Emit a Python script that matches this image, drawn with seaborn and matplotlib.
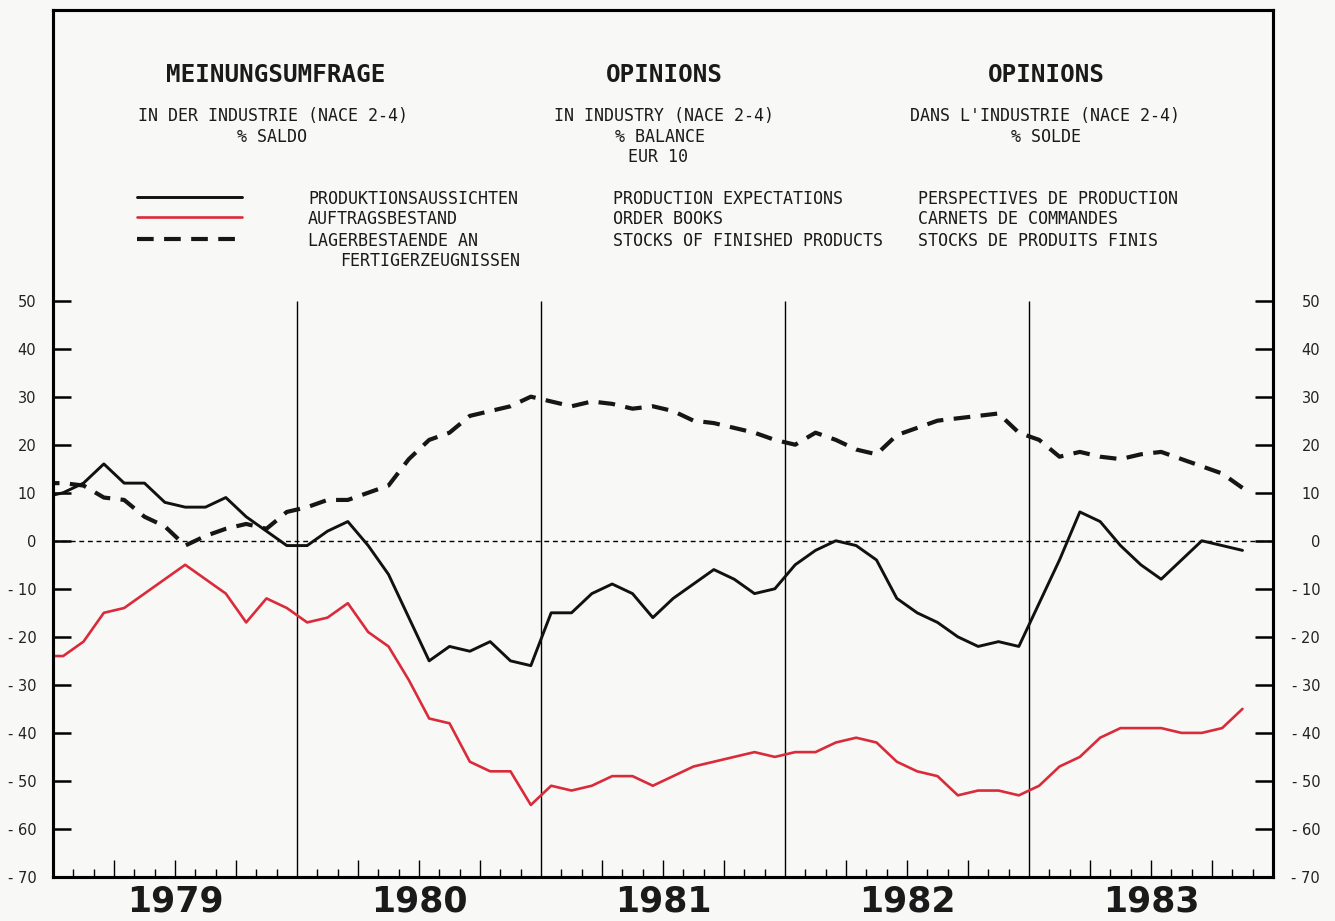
import numpy as np
import pandas as pd
import seaborn as sns
import matplotlib.pyplot as plt
from matplotlib.lines import Line2D
from matplotlib.transforms import blended_transform_factory

# monthly survey balances, Dec 1978 .. Nov 1983 (first point only feeds the line into the frame)
months = pd.period_range("1978-12", "1983-11", freq="M")

production = [9, 10, 12, 16, 12, 12, 8, 7, 7, 9, 5, 2, -1,
              -1, 2, 4, -1, -7, -16, -25, -22, -23, -21, -25, -26,
              -15, -15, -11, -9, -11, -16, -12, -9, -6, -8, -11, -10,
              -5, -2, 0, -1, -4, -12, -15, -17, -20, -22, -21, -22,
              -13, -4, 6, 4, -1, -5, -8, -4, 0, -1, -2]
orders = [-24, -24, -21, -15, -14, -11, -8, -5, -8, -11, -17, -12, -14,
          -17, -16, -13, -19, -22, -29, -37, -38, -46, -48, -48, -55,
          -51, -52, -51, -49, -49, -51, -49, -47, -46, -45, -44, -45,
          -44, -44, -42, -41, -42, -46, -48, -49, -53, -52, -52, -53,
          -51, -47, -45, -41, -39, -39, -39, -40, -40, -39, -35]
stocks = [12, 12, 11.5, 9, 8.5, 5, 3, -1, 1, 2.5, 3.5, 2.5, 6,
          7, 8.5, 8.5, 10, 11.5, 17, 21, 22.5, 26, 27, 28, 30,
          29, 28, 29, 28.5, 27.5, 28, 27, 25, 24.5, 23.5, 22.5, 21,
          20, 22.5, 21, 19, 18, 22, 23.5, 25, 25.5, 26, 26.5, 22.5,
          21, 17.5, 18.5, 17.5, 17, 18, 18.5, 17, 15.5, 14, 11]

years = ["1979", "1980", "1981", "1982", "1983"]
y_ticks = list(range(-70, 51, 10))

legend_de = ["PRODUKTIONSAUSSICHTEN", "AUFTRAGSBESTAND", "LAGERBESTAENDE AN"]
legend_en = ["PRODUCTION EXPECTATIONS", "ORDER BOOKS", "STOCKS OF FINISHED PRODUCTS"]
legend_fr = ["PERSPECTIVES DE PRODUCTION", "CARNETS DE COMMANDES", "STOCKS DE PRODUITS FINIS"]

W, H = 1335, 921
def fx(px):
    return px / W
def fy(py):
    return 1 - py / H

red = "#d92b3a"
paper = "#f8f8f6"
stock_dash = (0, (4.0, 2.5))
mono = "DejaVu Sans Mono"

sns.set_theme(style="white")
plt.rcParams["font.family"] = ["DejaVu Sans"]

fig = plt.figure(figsize=(13.35, 9.21), dpi=100, facecolor=paper)
ax = fig.add_axes([fx(53), fy(877), fx(1273) - fx(53), fy(10) - fy(877)])
ax.set_facecolor(paper)

df = pd.DataFrame({
    "x": (months.year - 1979) * 12 + months.month - 0.5,
    "production": production,
    "orders": orders,
    "stocks": stocks,
})

# year separators and zero line
ax.vlines([12, 24, 36, 48], -70, 50, color="black", lw=1, zorder=1)
ax.axhline(0, color="black", lw=1, linestyle=(0, (3.5, 2.7)), zorder=1)

sns.lineplot(data=df, x="x", y="stocks", color="#161616", lw=3,
             linestyle=stock_dash, ax=ax, zorder=3)
sns.lineplot(data=df, x="x", y="orders", color=red, lw=1.9, ax=ax, zorder=3)
sns.lineplot(data=df, x="x", y="production", color="#111111", lw=2.1, ax=ax, zorder=4)

ax.set_xlim(0, 60)
ax.set_ylim(-70, 110.5)
ax.set_xlabel("")
ax.set_ylabel("")

# x ticks: quarters long, months short, no tick at year boundaries
quarters = [m for m in range(1, 60) if m % 3 == 0 and m % 12 != 0]
month_ticks = [m for m in range(1, 60) if m % 3 != 0]
ax.set_xticks(quarters)
ax.set_xticks(month_ticks, minor=True)
ax.tick_params(axis="x", which="major", direction="in", length=12, width=1,
               color="black", bottom=True, labelbottom=False)
ax.tick_params(axis="x", which="minor", direction="in", length=5.5, width=1,
               color="black", bottom=True)

def fmt(v):
    return f"- {abs(v)}" if v < 0 else str(v)

ylabels = [fmt(v) for v in y_ticks]
ax.set_yticks(y_ticks)
ax.set_yticklabels(ylabels)
ax.tick_params(axis="y", which="major", direction="in", length=13, width=1.8,
               color="black", left=True, right=False, labelsize=10.5, pad=12,
               labelcolor="#222222")

ax2 = ax.twinx()
ax2.set_ylim(ax.get_ylim())
ax2.set_yticks(y_ticks)
ax2.set_yticklabels(ylabels)
ax2.tick_params(axis="y", which="major", direction="in", length=13, width=1.8,
                color="black", labelsize=10.5, pad=34, labelcolor="#222222")
for lab in ax2.get_yticklabels():
    lab.set_horizontalalignment("right")

for a in (ax, ax2):
    for side in a.spines.values():
        side.set_color("black")
        side.set_linewidth(2.2)

# year labels under each year block
tr = blended_transform_factory(ax.transData, fig.transFigure)
for i, yr in enumerate(years):
    ax.text(12 * i + 6, fy(911.5), yr, transform=tr, ha="center", va="baseline",
            fontsize=25, fontweight="bold", color="#1a1a1a")

# header block
for cx, title in [(275.5, "MEINUNGSUMFRAGE"), (664, "OPINIONS"), (1046, "OPINIONS")]:
    fig.text(fx(cx), fy(81.5), title, ha="center", va="baseline",
             family=mono, fontsize=17.5, fontweight="bold", color="#1a1a1a")

subs = [
    (272.5, 121, "IN DER INDUSTRIE (NACE 2-4)"),
    (272, 141.5, "% SALDO"),
    (664, 121, "IN INDUSTRY (NACE 2-4)"),
    (660, 141.5, "% BALANCE"),
    (658, 161.5, "EUR 10"),
    (1045, 121, "DANS L'INDUSTRIE (NACE 2-4)"),
    (1046, 141.5, "% SOLDE"),
]
for cx, by, txt in subs:
    fig.text(fx(cx), fy(by), txt, ha="center", va="baseline",
             family=mono, fontsize=12, color="#1a1a1a")

# legend samples
fig.add_artist(Line2D([fx(137), fx(242)], [fy(197.3)] * 2, transform=fig.transFigure,
                      color="#111111", lw=2.1))
fig.add_artist(Line2D([fx(137), fx(242)], [fy(217.3)] * 2, transform=fig.transFigure,
                      color=red, lw=1.9))
fig.add_artist(Line2D([fx(137), fx(242)], [fy(239)] * 2, transform=fig.transFigure,
                      color="#161616", lw=3, linestyle=stock_dash))

rows = [204, 224, 245.5]
for col_x, labels in [(308, legend_de), (613, legend_en), (918, legend_fr)]:
    for by, txt in zip(rows, labels):
        fig.text(fx(col_x), fy(by), txt, ha="left", va="baseline",
                 family=mono, fontsize=12, color="#1a1a1a")
fig.text(fx(340), fy(266.5), "FERTIGERZEUGNISSEN", ha="left", va="baseline",
         family=mono, fontsize=12, color="#1a1a1a")

fig.savefig("out.png", dpi=100, facecolor=paper)
